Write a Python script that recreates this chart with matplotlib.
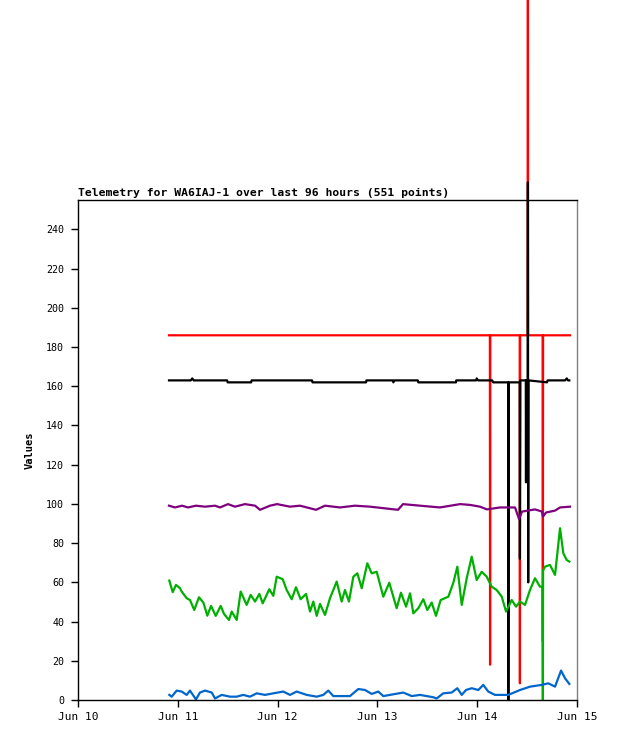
import numpy as np
import matplotlib.pyplot as plt

# ####################################################################
# telemetry data, time in days after Jun 10 00:00

red_t = [0.912, 4.127, 4.129, 4.131, 4.426, 4.428, 4.430, 4.506, 4.508, 4.510, 4.656, 4.658, 4.660, 4.930]
red_v = [186, 186, 18, 186, 186, 8.5, 186, 186, 400, 186, 186, 30, 186, 186]

black_t = [0.912, 1.13, 1.145, 1.16, 1.494, 1.50, 1.735, 1.74, 2.345, 2.35, 2.886, 2.89,
           3.155, 3.16, 3.17, 3.405, 3.41, 3.787, 3.79, 3.99, 3.995, 4.01, 4.15, 4.16,
           4.310, 4.312, 4.314, 4.316, 4.426, 4.428, 4.430, 4.432, 4.487, 4.489, 4.491,
           4.506, 4.508, 4.511, 4.514, 4.70, 4.705, 4.88, 4.897, 4.91, 4.923]
black_v = [163, 163, 164, 163, 163, 162, 162, 163, 163, 162, 162, 163,
           163, 162, 163, 163, 162, 162, 163, 163, 164, 163, 163, 162,
           162, 0, 81, 162, 162, 72, 118, 163, 163, 111, 163,
           163, 264, 60, 163, 162, 163, 163, 164, 163, 163]

purple_t = [0.912, 0.972, 1.042, 1.102, 1.182, 1.273, 1.373, 1.423, 1.503, 1.573, 1.673,
            1.774, 1.824, 1.924, 1.994, 2.124, 2.224, 2.385, 2.475, 2.625, 2.776, 2.926,
            3.206, 3.257, 3.427, 3.627, 3.828, 3.928, 4.028, 4.098, 4.228, 4.379, 4.419,
            4.449, 4.579, 4.649, 4.659, 4.689, 4.780, 4.830, 4.930]
purple_v = [99.1, 98.2, 99.1, 98.2, 99.1, 98.6, 99.1, 98.2, 99.9, 98.6, 99.9,
            99.1, 97.0, 99.1, 99.9, 98.6, 99.1, 97.0, 99.1, 98.2, 99.1, 98.6,
            97.0, 99.9, 99.1, 98.2, 99.9, 99.5, 98.6, 97.2, 98.2, 98.2, 92.3,
            96.1, 97.2, 96.1, 93.5, 95.6, 96.6, 98.2, 98.6]

green_t = [0.915, 0.949, 0.982, 1.022, 1.039, 1.089, 1.122, 1.165, 1.212, 1.256, 1.296,
           1.333, 1.380, 1.430, 1.463, 1.513, 1.540, 1.590, 1.630, 1.690, 1.730, 1.774,
           1.817, 1.851, 1.917, 1.957, 1.991, 2.051, 2.091, 2.141, 2.184, 2.231, 2.285,
           2.325, 2.358, 2.392, 2.425, 2.475, 2.525, 2.592, 2.642, 2.675, 2.715, 2.759,
           2.799, 2.843, 2.899, 2.943, 2.993, 3.059, 3.119, 3.193, 3.236, 3.287, 3.327,
           3.360, 3.410, 3.460, 3.500, 3.544, 3.587, 3.634, 3.711, 3.761, 3.801, 3.845,
           3.895, 3.945, 3.995, 4.045, 4.095, 4.145, 4.195, 4.246, 4.289, 4.346, 4.389,
           4.429, 4.479, 4.529, 4.579, 4.629, 4.654, 4.656, 4.658, 4.660, 4.679, 4.729,
           4.780, 4.830, 4.863, 4.897, 4.923]
green_v = [60.9, 55.0, 58.7, 57.0, 55.3, 51.9, 51.0, 45.9, 52.4, 49.7, 43.0,
           48.0, 42.9, 48.0, 43.9, 40.8, 45.1, 40.8, 55.3, 48.5, 53.6, 50.2,
           54.1, 49.3, 56.5, 53.1, 62.9, 61.6, 56.1, 51.4, 57.5, 51.4, 54.1,
           45.1, 50.2, 42.9, 49.0, 43.4, 51.9, 60.4, 50.2, 56.1, 50.2, 62.9,
           64.6, 57.0, 69.7, 64.6, 65.4, 52.7, 59.8, 46.8, 54.7, 47.6, 54.4,
           44.2, 46.8, 51.4, 45.9, 49.7, 42.9, 51.0, 52.7, 59.8, 68.0, 48.5,
           62.1, 73.1, 61.2, 65.4, 62.9, 57.8, 56.1, 52.7, 45.1, 51.0, 47.6,
           50.2, 48.5, 56.1, 62.1, 57.8, 57.8, 29.8, 0.0, 66.0, 68.0, 68.9,
           63.8, 87.6, 74.8, 71.4, 70.6]

blue_t = [0.915, 0.939, 0.989, 1.039, 1.089, 1.122, 1.182, 1.222, 1.273, 1.340, 1.373,
          1.440, 1.523, 1.590, 1.656, 1.723, 1.791, 1.874, 1.957, 2.057, 2.124, 2.191,
          2.292, 2.392, 2.458, 2.508, 2.558, 2.725, 2.809, 2.876, 2.943, 3.009, 3.059,
          3.126, 3.259, 3.344, 3.427, 3.560, 3.594, 3.660, 3.744, 3.801, 3.845, 3.888,
          3.945, 4.011, 4.061, 4.111, 4.178, 4.312, 4.429, 4.529, 4.646, 4.713, 4.780,
          4.840, 4.880, 4.923]
blue_v = [2.6, 1.7, 4.8, 4.3, 2.6, 4.8, 0.3, 3.8, 4.8, 3.8, 0.8,
          2.6, 1.7, 1.7, 2.6, 1.7, 3.4, 2.6, 3.4, 4.3, 2.6, 4.3,
          2.6, 1.7, 2.6, 4.8, 2.0, 2.0, 5.6, 5.1, 3.1, 4.3, 2.0,
          2.6, 3.8, 2.0, 2.6, 1.4, 0.8, 3.4, 3.8, 6.0, 2.6, 5.1,
          6.0, 5.1, 7.7, 4.3, 2.6, 2.6, 5.1, 6.8, 7.7, 8.5, 6.8,
          15.0, 11.1, 8.2]

day_labels = ["Jun 10", "Jun 11", "Jun 12", "Jun 13", "Jun 14", "Jun 15"]

# ####################################################################
plt.rcParams['font.family'] = ['DejaVu Sans Mono']

fig = plt.figure(figsize=(6.18, 7.41), dpi=100)
ax = fig.add_axes([78/618, 41/741, 499/618, 500/741])

series = [(red_t, red_v, '#ff0000'),
          (black_t, black_v, '#000000'),
          (purple_t, purple_v, '#7f007f'),
          (green_t, green_v, '#00b000'),
          (blue_t, blue_v, '#0066cc')]
for t, v, col in series:
    ax.plot(t, v, color=col, lw=1.6, clip_on=False)

ax.set_xlim(0, 5)
ax.set_ylim(0, 255)
ax.set_xticks(range(6))
ax.set_xticklabels(day_labels)
ax.set_yticks(range(0, 241, 20))

ax.tick_params(axis='both', direction='out', length=5, width=1, labelsize=7.2)
ax.tick_params(axis='x', labelsize=8, pad=4)
ax.tick_params(axis='y', pad=5)

for s in ['left', 'bottom', 'top']:
    ax.spines[s].set_color('black')
    ax.spines[s].set_linewidth(1)
ax.spines['right'].set_color('#808080')
ax.spines['right'].set_linewidth(1)

ax.set_ylabel("Values", fontsize=7.5, fontweight='bold', labelpad=8)
ax.set_title("Telemetry for WA6IAJ-1 over last 96 hours (551 points)",
             loc='left', fontsize=8.2, fontweight='bold', pad=3)

plt.savefig("out.png", dpi=100)
